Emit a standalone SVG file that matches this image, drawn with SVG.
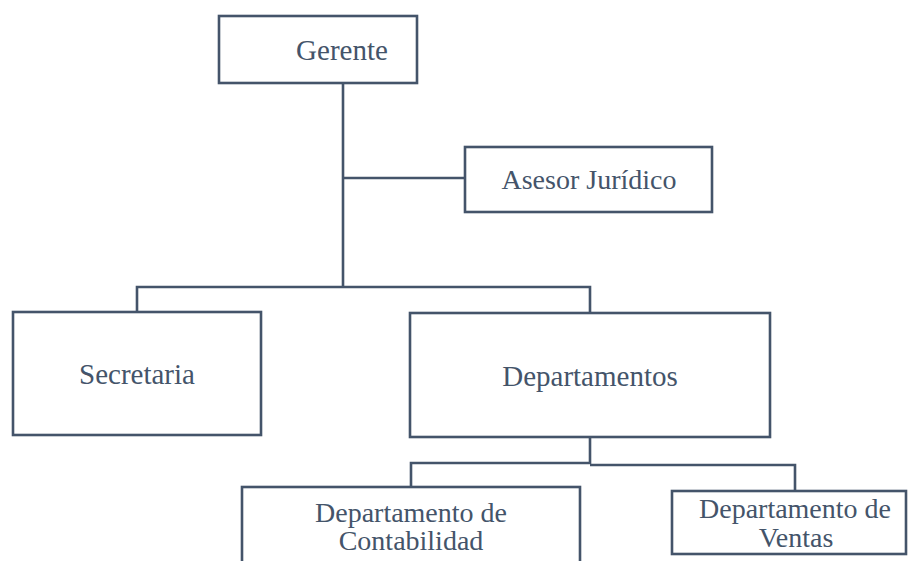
<svg xmlns="http://www.w3.org/2000/svg" width="908" height="561" viewBox="0 0 908 561">
<style>
.box{fill:#fff;stroke:#44546A;stroke-width:2.6}
.ln{fill:none;stroke:#44546A;stroke-width:2.6}
text{font-family:"Liberation Serif","Times New Roman",serif;font-size:28px;fill:#44546A;text-anchor:middle}
</style>
<rect width="908" height="561" fill="#fff"/>
<g id="connectors">
<path class="ln" d="M343 83 V287"/>
<path class="ln" d="M343 178 H465"/>
<path class="ln" d="M137 312 V287 H590 V313"/>
<path class="ln" d="M590 437 V464"/>
<path class="ln" d="M411 487 V463 H590"/>
<path class="ln" d="M590 465 H795 V491"/>
</g>
<g id="gerente"><rect class="box" x="219" y="16" width="198" height="67"/><text x="342" y="60" style="font-size:29px">Gerente</text></g>
<g id="asesor"><rect class="box" x="465" y="147" width="247" height="65"/><text x="589" y="189">Asesor Jurídico</text></g>
<g id="secretaria"><rect class="box" x="13" y="312" width="248" height="123"/><text x="137" y="384" style="font-size:29px">Secretaria</text></g>
<g id="departamentos"><rect class="box" x="410" y="313" width="360" height="124"/><text x="590" y="386" style="font-size:29px">Departamentos</text></g>
<g id="contabilidad"><rect class="box" x="242" y="487" width="338" height="90"/><text x="411" y="522">Departamento de</text><text x="411" y="550">Contabilidad</text></g>
<g id="ventas"><rect class="box" x="672" y="491" width="234" height="63"/><text x="795" y="518">Departamento de</text><text x="796" y="547">Ventas</text></g>
</svg>
